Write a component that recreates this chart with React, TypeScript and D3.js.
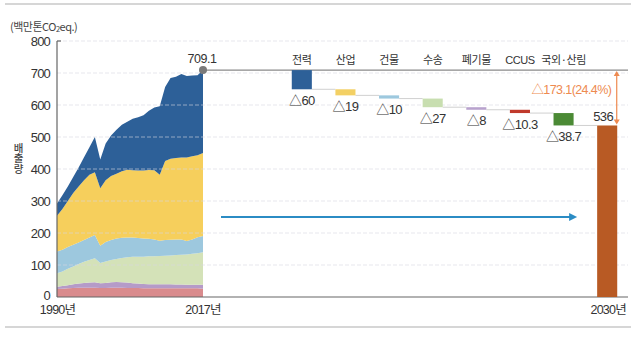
import React from "react";
import * as d3 from "d3";

const years = [1990,1991,1992,1993,1994,1995,1996,1997,1998,1999,2000,2001,2002,2003,2004,2005,2006,2007,2008,2009,2010,2011,2012,2013,2014,2015,2016,2017];
const other = [25,26,27,28,29,29,29,29,28,28,29,29,29,28,28,28,27,27,27,27,27,27,27,27,27,27,27,26];
const waste = [7,8,10,12,13,15,16,17,15,16,17,18,17,17,15,14,14,13,13,13,13,13,12,12,11,11,11,12];
const transport = [42,46,51,55,61,66,71,75,63,67,70,72,76,79,83,84,85,87,87,88,89,90,92,93,95,97,99,102];
const buildings = [68,68,68,68,67,68,70,73,54,61,62,64,63,62,60,58,57,55,53,48,49,49,49,48,42,45,50,51];
const industry = [112,127,144,162,175,187,196,196,180,193,200,202,208,212,210,211,212,215,216,206,247,253,254,256,261,260,256,259];
const power = [38,43,45,50,60,72,86,110,90,115,127,138,145,150,161,167,173,185,196,214,231,252,254,261,255,252,250,259.1];

const total2017 = 709.1;
const wfCategories = ["전력", "산업", "건물", "수송", "폐기물", "CCUS", "국외·산림"];
const wfReductions = [60, 19, 10, 27, 8, 10.3, 38.7];
const target2030 = 536;
const totalReductionLabel = "△173.1(24.4%)";
const yTicks = [0, 100, 200, 300, 400, 500, 600, 700, 800];
const yTitle = "배출량";

const layerKeys = ["other", "waste", "transport", "buildings", "industry", "power"];
const layerColors: Record<string, string> = {
  other: "#d98b8d",
  waste: "#b59bc8",
  transport: "#d4e2b8",
  buildings: "#9dc8de",
  industry: "#f6cf5c",
  power: "#2d6098",
};
const wfColors = ["#2d6098", "#f3d064", "#9dc8de", "#c8deb0", "#b8a2cd", "#c0392b", "#4b8a35"];
const color2030 = "#b85a24";
const orange = "#ee8a50";
const font = "'Liberation Sans', Arial, 'Noto Sans CJK KR', sans-serif";
const krFont = "'Noto Sans CJK KR', sans-serif";

export default function App() {
  const W = 639, H = 337;
  const y = d3.scaleLinear().domain([0, 800]).range([297, 41]);
  const xYear = d3.scaleLinear().domain([1990, 2017]).range([57, 203]);
  const bandDomain = [...wfCategories, "2030"];
  const xb = d3.scaleBand<string>().domain(bandDomain).range([280, 629]).paddingInner(0.54).paddingOuter(0.27);

  const table = years.map((yr, i) => ({
    year: yr,
    other: other[i], waste: waste[i], transport: transport[i],
    buildings: buildings[i], industry: industry[i], power: power[i],
  }));
  const stack = d3.stack<any>().keys(layerKeys)(table);
  const area = d3.area<any>()
    .x((d) => xYear(d.data.year))
    .y0((d) => y(d[0]))
    .y1((d) => y(d[1]));

  let level = total2017;
  const wf = wfCategories.map((c, i) => {
    const top = level;
    const bottom = level - wfReductions[i];
    level = bottom;
    return { c, top, bottom, r: wfReductions[i], color: wfColors[i] };
  });

  const bw = xb.bandwidth();
  const x0 = xYear(1990);
  const xEnd = 628;
  const arrowY = y(250);
  const arrowX1 = xYear(2017) + 18;
  const arrowX2 = (xb("2030") as number) - 20;
  const bx2030 = xb("2030") as number;
  const dblX = bx2030 + bw - 0.5;

  return (
    <svg width={W} height={H} style={{ position: "fixed", left: 0, top: 0, background: "#fff" }} fontFamily={font}>
      <rect width={W} height={H} fill="#fff" />
      <line x1={5} x2={631} y1={4} y2={4} stroke="#c9c9c9" strokeWidth={1.6} />
      <line x1={5} x2={631} y1={327} y2={327} stroke="#c9c9c9" strokeWidth={1.6} />

      <text x={10} y={31} fontSize={11} fill="#444" letterSpacing={-0.5} fontFamily={krFont}>
        (백만톤CO<tspan fontSize={7.5} dy={1}>2</tspan><tspan dy={-1}>eq.)</tspan>
      </text>
      <text x={18.5} y={142.5} fontSize={10.5} fontWeight={500} fill="#444" fontFamily={krFont}
        style={{ writingMode: "vertical-rl", textOrientation: "upright" } as any}>{yTitle}</text>

      {stack.map((s) => (
        <path key={s.key} d={area(s) as string} fill={layerColors[s.key]} />
      ))}

      {yTicks.filter((t) => t > 0).map((t) => (
        <line key={t} x1={x0} x2={xEnd} y1={y(t)} y2={y(t)} stroke="rgba(215,215,225,0.6)" strokeWidth={1} strokeDasharray="4 2" />
      ))}

      <line x1={x0} x2={x0} y1={y(800)} y2={y(0)} stroke="#666" strokeWidth={1.2} />
      <line x1={x0} x2={x0 + 4} y1={y(800)} y2={y(800)} stroke="#666" strokeWidth={1.2} />
      <line x1={x0} x2={xEnd} y1={y(0)} y2={y(0)} stroke="#666" strokeWidth={1.2} />
      {yTicks.map((t) => (
        <text key={t} x={50} y={y(t) + (t === 0 ? 3 : 4.5)} fontSize={13} fill="#333" textAnchor="end" letterSpacing={-0.8}>{t}</text>
      ))}
      <text x={xYear(1990) + 0.5} y={313.5} fontSize={12.5} fill="#333" textAnchor="middle" letterSpacing={-0.8}>1990년</text>
      <text x={xYear(2017)} y={313.5} fontSize={12.5} fill="#333" textAnchor="middle" letterSpacing={-0.8}>2017년</text>
      <text x={bx2030 + bw / 2 + 1} y={313.5} fontSize={12.5} fill="#333" textAnchor="middle" letterSpacing={-0.8}>2030년</text>

      <line x1={xYear(2017)} x2={xEnd} y1={y(total2017)} y2={y(total2017)} stroke="#8a8a8a" strokeWidth={1.3} />
      <circle cx={xYear(2017)} cy={y(total2017)} r={4} fill="#7a7a7a" />
      <text x={xYear(2017) - 1} y={63} fontSize={12.5} fill="#333" textAnchor="middle" letterSpacing={-0.5}>{total2017}</text>

      {wf.map((d, i) => {
        const bx = xb(d.c) as number;
        const nextX = i < wf.length - 1 ? (xb(wf[i + 1].c) as number) : bx2030;
        return (
          <g key={d.c}>
            <line x1={bx + bw} x2={nextX} y1={y(d.bottom)} y2={y(d.bottom)} stroke="#d0d0d0" strokeWidth={1} />
            <rect x={bx} y={y(d.top)} width={bw} height={y(d.bottom) - y(d.top)} fill={d.color} />
            <text x={bx + bw / 2} y={64} fontSize={11} fill="#333" textAnchor="middle" letterSpacing={-0.4} fontFamily={d.c === "CCUS" ? font : krFont}>{d.c}</text>
            <text x={bx + bw / 2} y={y(d.bottom) + 15.5} fontSize={13} fill="#333" textAnchor="middle" letterSpacing={-0.6}>△{d.r}</text>
          </g>
        );
      })}
      <rect x={bx2030} y={y(target2030)} width={bw} height={y(0) - y(target2030)} fill={color2030} />
      <text x={bx2030 + bw / 2 - 4} y={y(target2030) - 4.5} fontSize={13} fill="#333" textAnchor="middle" letterSpacing={-0.6}>{target2030}</text>

      <line x1={dblX} x2={dblX} y1={y(total2017) + 3} y2={y(target2030) - 3} stroke={orange} strokeWidth={1.2} />
      <path d={`M${dblX - 3},${y(total2017) + 6} L${dblX},${y(total2017) + 1} L${dblX + 3},${y(total2017) + 6} Z`} fill={orange} />
      <path d={`M${dblX - 3},${y(target2030) - 6} L${dblX},${y(target2030) - 1} L${dblX + 3},${y(target2030) - 6} Z`} fill={orange} />
      <text x={dblX - 5.5} y={y(total2017) + 23.5} fontSize={12.5} fill={orange} textAnchor="end" letterSpacing={-0.6}>{totalReductionLabel}</text>

      <line x1={arrowX1} x2={arrowX2 - 6} y1={arrowY} y2={arrowY} stroke="#2b8cc4" strokeWidth={2} />
      <path d={`M${arrowX2 - 8},${arrowY - 4} L${arrowX2},${arrowY} L${arrowX2 - 8},${arrowY + 4} Z`} fill="#2b8cc4" />
    </svg>
  );
}
